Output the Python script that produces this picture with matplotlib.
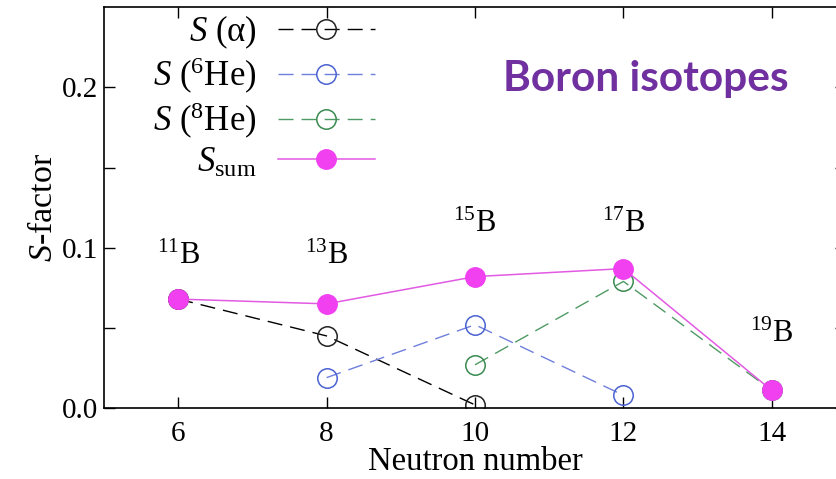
import matplotlib
matplotlib.use('Agg')
import matplotlib.pyplot as plt

plt.rcParams['font.family'] = ['Liberation Serif', 'DejaVu Serif']
plt.rcParams['mathtext.fontset'] = 'custom'
plt.rcParams['mathtext.rm'] = 'Liberation Serif'
plt.rcParams['mathtext.it'] = 'Liberation Serif:italic'

# neutron number of each isotope and the S-factor contributions
n_alpha = [6, 8, 10]
s_alpha = [0.068, 0.045, 0.002]
n_he6 = [8, 10, 12]
s_he6 = [0.019, 0.052, 0.008]
n_he8 = [10, 12, 14]
s_he8 = [0.027, 0.079, 0.011]
n_sum = [6, 8, 10, 12, 14]
s_sum = [0.068, 0.065, 0.082, 0.087, 0.011]

isotopes = ['$^{11}$B', '$^{13}$B', '$^{15}$B', '$^{17}$B', '$^{19}$B']
iso_y = [0.090, 0.090, 0.110, 0.110, 0.041]

fig = plt.figure(figsize=(8.36, 4.79), dpi=100)
ax = fig.add_axes([0.1244, 0.148, 0.8876, 0.837])

dash = (10.8, 5.8)
ax.plot(n_alpha, s_alpha, color='black', lw=1, dashes=dash,
        marker='o', ms=14, mfc='none', mec='#222222', mew=1.1,
        label='$S$ (α)')
ax.plot(n_he6, s_he6, color='#6f7fdc', lw=1, dashes=dash,
        marker='o', ms=14, mfc='none', mec='#4a62d2', mew=1.1,
        label='$S$ ($^{6}$He)')
ax.plot(n_he8, s_he8, color='#4f9a64', lw=1, dashes=dash,
        marker='o', ms=14, mfc='none', mec='#3a8a50', mew=1.1,
        label='$S$ ($^{8}$He)')
ax.plot(n_sum, s_sum, color='#e25ae2', lw=1.1,
        marker='o', ms=14, mfc='#f040f0', mec='#f040f0',
        label='$S_{\\rm sum}$')

for n, y, name in zip(n_sum, iso_y, isotopes):
    ax.text(n, y, name, ha='center', va='baseline', fontsize=22)

ax.set_xlim(5, 15)
ax.set_ylim(0, 0.25)
ax.set_xticks([6, 8, 10, 12, 14])
ax.set_yticks([0.0, 0.1, 0.2])
ax.set_yticks([0.05, 0.15], minor=True)
ax.set_yticklabels(['0.0', '0.1', '0.2'])
ax.tick_params(direction='in', length=8, width=1, labelsize=21,
               top=True, right=True)
ax.tick_params(axis='x', pad=9)
ax.tick_params(axis='y', pad=4)
ax.tick_params(which='minor', direction='in', length=8, width=1,
               right=True)
for sp in ax.spines.values():
    sp.set_linewidth(1.2)

ax.set_xlabel('Neutron number', fontsize=23.5, labelpad=0)
ax.set_ylabel('$S$-factor', fontsize=24.5, labelpad=2)

leg = ax.legend(loc='upper right', bbox_to_anchor=(0.365, 0.985),
                frameon=False, markerfirst=False, fontsize=25,
                handlelength=2.8, handletextpad=0.6, labelspacing=0.15,
                borderaxespad=0, borderpad=0)
for col in leg._legend_handle_box.get_children():
    col.align = 'right'

fig.text(0.772, 0.81, 'Boron isotopes', family='Lato', weight='bold',
         fontsize=30.5, color='#7030a0', ha='center', va='baseline')

fig.savefig('out.png', dpi=100)
